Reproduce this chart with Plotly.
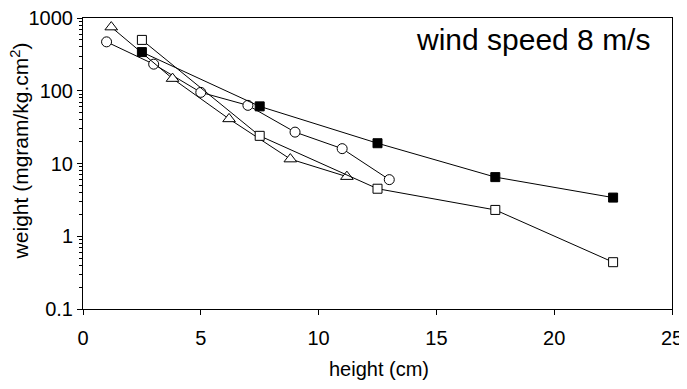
import plotly.graph_objects as go

circ_x = [1.0, 3.0, 5.0, 7.0, 9.0, 11.0, 13.0]
circ_y = [470, 232, 95, 63, 27, 16, 6.0]

fsq_x = [2.5, 7.5, 12.5, 17.5, 22.5]
fsq_y = [340, 61, 19, 6.5, 3.4]

osq_x = [2.5, 7.5, 12.5, 17.5, 22.5]
osq_y = [500, 24, 4.5, 2.3, 0.44]

tri_x = [1.2, 3.8, 6.2, 8.8, 11.2]
tri_y = [750, 147, 41, 11.5, 6.6]

y_ticks = [0.1, 1, 10, 100, 1000]
y_labels = ["0.1", "1", "10", "100", "1000"]
x_ticks = [0, 5, 10, 15, 20, 25]
minor_y = [m * d for d in [0.1, 1, 10, 100] for m in range(2, 10)]

fig = go.Figure()

def add(x, y, symbol, fill, size):
    fig.add_trace(go.Scatter(
        x=x, y=y, mode="lines+markers",
        line=dict(color="black", width=1),
        marker=dict(symbol=symbol, size=size,
                    color=fill, line=dict(color="black", width=1)),
        showlegend=False, cliponaxis=False,
    ))

add(circ_x, circ_y, "circle", "white", 10)
add(tri_x, tri_y, "triangle-up", "white", 11)
add(osq_x, osq_y, "square", "white", 9)
add(fsq_x, fsq_y, "square", "black", 9)

fig.update_layout(
    width=679, height=381,
    margin=dict(l=75, r=15, t=10, b=80),
    paper_bgcolor="white", plot_bgcolor="white",
    font=dict(family="Liberation Sans, Arial, sans-serif", color="black"),
    annotations=[
        dict(text="wind speed 8 m/s", xref="paper", yref="paper",
             x=0.966, y=0.925, xanchor="right", yanchor="middle",
             showarrow=False, font=dict(size=30, color="black")),
        dict(text="weight (mgram/kg.cm<sup>2</sup>)", xref="paper", yref="paper",
             x=-0.107, y=0.545, xanchor="center", yanchor="middle",
             textangle=-90, showarrow=False, font=dict(size=21, color="black")),
        dict(text="height (cm)", xref="paper", yref="paper",
             x=0.503, y=-0.207, xanchor="center", yanchor="middle",
             showarrow=False, font=dict(size=20, color="black")),
    ],
)

fig.update_xaxes(
    range=[0, 25], tickvals=x_ticks, ticks="outside", ticklen=5,
    tickcolor="black", linecolor="black", linewidth=1, mirror=True,
    showgrid=False, zeroline=False, automargin=False,
    ticklabeloverflow="allow", ticklabelstandoff=6,
    tickfont=dict(size=20),
)
fig.update_yaxes(
    type="log", range=[-1, 3], tickvals=y_ticks, ticktext=y_labels,
    ticks="outside", ticklen=5, tickcolor="black",
    linecolor="black", linewidth=1, mirror=True,
    showgrid=False, zeroline=False, automargin=False,
    ticklabeloverflow="allow",
    minor=dict(tickvals=minor_y, ticks="outside", ticklen=3,
               tickcolor="black", showgrid=False),
    tickfont=dict(size=20),
)

fig.write_html("out.html")
